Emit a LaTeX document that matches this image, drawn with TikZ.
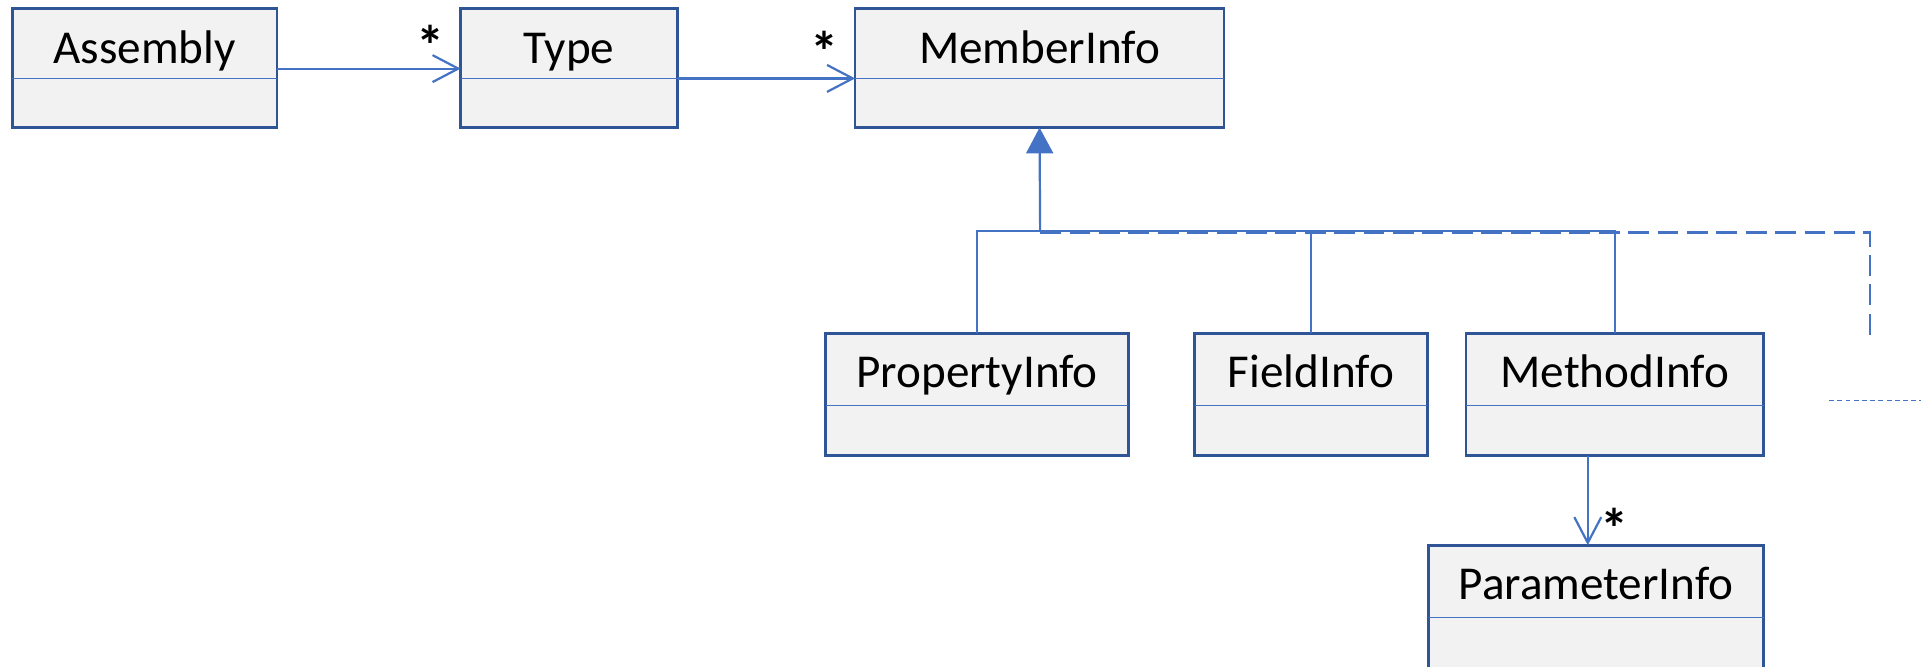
\documentclass[tikz,border=0pt]{standalone}
\usepackage{fontspec}
\setmainfont{Carlito}
\usetikzlibrary{arrows.meta}
\definecolor{umlborder}{HTML}{2F5597}
\definecolor{umlline}{HTML}{4472C4}
\definecolor{umlfill}{HTML}{F2F2F2}
\tikzset{
  classbox/.style={rectangle, draw=umlborder, fill=umlfill, line width=2.2pt, inner sep=0pt, outer sep=0pt},
  divider/.style={draw=umlline, line width=1pt},
  title/.style={inner sep=0pt, text=black, font=\fontsize{38.5}{46}\selectfont},
  mult/.style={inner sep=0pt, text=black, font=\fontsize{46}{52}\selectfont\bfseries},
  conn/.style={draw=umlline, line width=1.8pt},
  assoc/.style={conn, -{Straight Barb[length=21pt, width=22pt]}},
  inherit/.style={conn, -{Triangle[length=21pt, width=22pt, fill=umlline]}},
  realize/.style={conn, dash pattern=on 17pt off 7pt},
  hint/.style={draw=umlline, line width=1pt, dash pattern=on 4pt off 2.7pt},
}
% #1 name, #2 left, #3 top, #4 right, #5 bottom, #6 divider y, #7 class name
\newcommand\umlclass[7]{%
  \node[classbox, anchor=north west, minimum width={(#4-#2)*1pt}, minimum height={(#5-#3)*1pt}] (#1) at (#2,#3) {};
  \draw[divider] (#1.west |- 0,#6) -- (#1.east |- 0,#6);
  \node[title, anchor=base] (#1-name) at ({(#2+#4)/2},{#3+44.5}) {#7};
}
\begin{document}
\begin{tikzpicture}[x=1pt, y=-1pt]
  \useasboundingbox (0,0) rectangle (1568,544);
  \clip (0,0) rectangle (1568,544);

  % classes
  \umlclass{asm}{10}{7}{226}{104.2}{64}{Assembly}
  \umlclass{typ}{376}{7}{553}{104.2}{64}{Type}
  \umlclass{mem}{698}{7}{999}{104.2}{64}{MemberInfo}
  \umlclass{prop}{674}{272}{921}{372}{331}{PropertyInfo}
  \umlclass{fld}{975}{272}{1165}{372}{331}{FieldInfo}
  \umlclass{mth}{1196.5}{272}{1439.5}{372}{331}{MethodInfo}
  \umlclass{par}{1166}{445}{1439.5}{546}{504}{ParameterInfo}

  % associations
  \draw[assoc] (asm.east |- 0,56) -- (typ.west |- 0,56);
  \node[mult, anchor=north] (m-typ) at (351.4,20.4) {*};
  \draw[assoc] (typ.east |- 0,64) -- (mem.west |- 0,64);
  \node[mult, anchor=north] (m-mem) at (673,25.5) {*};
  \draw[assoc] (mth.south -| 1296,0) -- (par.north -| 1296,0);
  \node[mult, anchor=north] (m-par) at (1317.6,415) {*};

  % generalization tree
  \coordinate (join) at (849,188.6);
  \draw[conn] (prop.north) -- (prop.north |- join) -- (mth.north |- join) -- (mth.north);
  \draw[conn] (fld.north) -- (fld.north |- join);
  \draw[inherit] (join) -- (mem.south);

  % further subclasses, dashed
  \coordinate (dstart) at (849,189.8);
  \coordinate (dcorner) at (1526.6,189.8);
  \coordinate (dend) at (1526.6,273.4);
  \draw[realize] (dstart) -- (dcorner) -- (dend);

  % dotted hint line
  \coordinate (hstart) at (1493,327);
  \coordinate (hend) at (1568,327);
  \draw[hint] (hstart) -- (hend);
\end{tikzpicture}
\end{document}
